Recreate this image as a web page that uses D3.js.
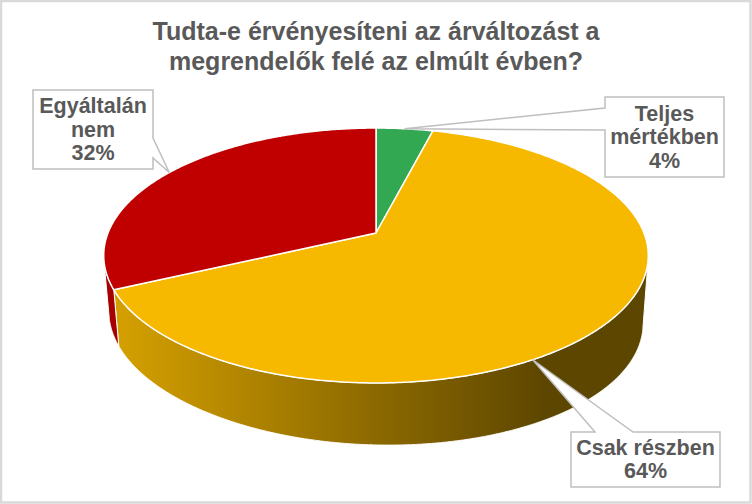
<!DOCTYPE html>
<html>
<head>
<meta charset="utf-8">
<script src="https://cdn.jsdelivr.net/npm/d3@7"></script>
<style>
  body { margin: 0; background: #fff; }
  text { font-family: "Liberation Sans", Arial, sans-serif; font-weight: bold; fill: #595959; }
</style>
</head>
<body>
<svg width="752" height="504"></svg>
<script>
// Data
var categories = ["Teljes mértékben", "Csak részben", "Egyáltalán nem"];
var categoryLines = [["Teljes", "mértékben"], ["Csak részben"], ["Egyáltalán", "nem"]];
var values = [4, 64, 32];
var colors = ["#33A852", "#F6B900", "#C00000"];
var titleLines = ["Tudta-e érvényesíteni az árváltozást a", "megrendelők felé az elmúlt évben?"];

var svg = d3.select("svg"),
    width = +svg.attr("width"),
    height = +svg.attr("height");

// chart border
svg.append("rect")
  .attr("x", 1).attr("y", 1)
  .attr("width", width - 2.5).attr("height", height - 2.5)
  .attr("fill", "#fff").attr("stroke", "#D9D9D9").attr("stroke-width", 2.5);

// title
svg.append("g").selectAll("text")
  .data(titleLines).enter().append("text")
  .attr("x", width / 2)
  .attr("y", function (d, i) { return 40 + i * 30; })
  .attr("text-anchor", "middle")
  .style("font-size", "25px")
  .text(function (d) { return d; });

// 3d pie projection (perspective top face + side)
var cx = 376, cy = 233,
    halfW = 268, halfH = 123.5, persp = 0.1765;

function proj(a, r) {
  var s = Math.sin(a) * r, c = Math.cos(a) * r, q = 1 + persp * c;
  return [cx + halfW * s / q, cy - halfH * c / q];
}
// bottom rim point under a top rim point
function down(p) {
  return [cx + (p[0] - cx) * 0.981, p[1] + 62 + 0.022 * (p[0] - cx)];
}

var pie = d3.pie().sort(null).startAngle(0).endAngle(2 * Math.PI);
var arcs = pie(values);
var total = d3.sum(values);

// side shading
var defs = svg.append("defs");
colors.forEach(function (col, i) {
  var base = d3.rgb(col);
  var g = defs.append("linearGradient")
    .attr("id", "side" + i)
    .attr("gradientUnits", "userSpaceOnUse")
    .attr("x1", 110).attr("x2", 545).attr("y1", 0).attr("y2", 0);
  [[0, 0.87], [1, 0.38]].forEach(function (s) {
    g.append("stop").attr("offset", s[0])
      .attr("stop-color", d3.rgb(base.r * s[1], base.g * s[1], base.b * s[1]));
  });
});

function visible(a) {
  var step = 0.002;
  var p0 = proj(a - step, 1), p1 = proj(a + step, 1), p = proj(a, 1), b = down(p);
  var tx = p1[0] - p0[0], ty = p1[1] - p0[1];
  return tx * (b[1] - p[1]) - ty * (b[0] - p[0]) < 0;
}

var sides = svg.append("g");
arcs.forEach(function (d, i) {
  var n = Math.max(2, Math.ceil((d.endAngle - d.startAngle) / 0.004));
  var tops = [];
  for (var k = 0; k <= n; k++) {
    var a = d.startAngle + (d.endAngle - d.startAngle) * k / n;
    if (visible(a)) tops.push(proj(a, 1));
  }
  if (tops.length < 2) return;
  var bottoms = tops.map(down).reverse();
  sides.append("path")
    .attr("d", d3.line()(tops.concat(bottoms)) + "Z")
    .attr("fill", "url(#side" + i + ")")
    .attr("stroke", "#fff").attr("stroke-width", 1).attr("stroke-linejoin", "round");
});

// top faces
svg.append("g").selectAll("path")
  .data(arcs).enter().append("path")
  .attr("d", function (d) {
    var n = Math.max(2, Math.ceil((d.endAngle - d.startAngle) / 0.01));
    var pts = [proj(0, 0)];
    for (var k = 0; k <= n; k++) pts.push(proj(d.startAngle + (d.endAngle - d.startAngle) * k / n, 1));
    return d3.line()(pts) + "Z";
  })
  .attr("fill", function (d, i) { return colors[i]; })
  .attr("stroke", "#fff").attr("stroke-width", 1.5).attr("stroke-linejoin", "round");

// callouts
var callouts = [
  { box: [605, 97, 119, 80], side: "left", wedge: [108, 130], tipFrac: 0.5 },
  { box: [571, 432, 149, 55], side: "top", wedge: [595, 633], tipFrac: 0.59 },
  { box: [33, 90, 120, 79], side: "right", wedge: [138, 158], tipFrac: 0.5 }
];

function calloutPath(c, tip) {
  var x = c.box[0], y = c.box[1], w = c.box[2], h = c.box[3], p = [];
  p.push([x, y]);
  if (c.side === "top") p.push([c.wedge[0], y], tip, [c.wedge[1], y]);
  p.push([x + w, y]);
  if (c.side === "right") p.push([x + w, c.wedge[0]], tip, [x + w, c.wedge[1]]);
  p.push([x + w, y + h]);
  p.push([x, y + h]);
  if (c.side === "left") p.push([x, c.wedge[1]], tip, [x, c.wedge[0]]);
  return d3.line()(p) + "Z";
}

var labels = svg.append("g");
arcs.forEach(function (d, i) {
  var c = callouts[i];
  var tip = proj(d.startAngle + (d.endAngle - d.startAngle) * c.tipFrac, 1);
  labels.append("path")
    .attr("d", calloutPath(c, tip))
    .attr("fill", "#fff").attr("stroke", "#BFBFBF").attr("stroke-width", 1.5);
  var lines = categoryLines[i].concat([Math.round(d.value / total * 100) + "%"]);
  var midY = c.box[1] + c.box[3] / 2, lh = 23.5;
  labels.selectAll(null).data(lines).enter().append("text")
    .attr("x", c.box[0] + c.box[2] / 2)
    .attr("y", function (t, j) { return midY + (j - (lines.length - 1) / 2) * lh + 7.2; })
    .attr("text-anchor", "middle")
    .style("font-size", "21.5px")
    .text(function (t) { return t; });
});
</script>
</body>
</html>
